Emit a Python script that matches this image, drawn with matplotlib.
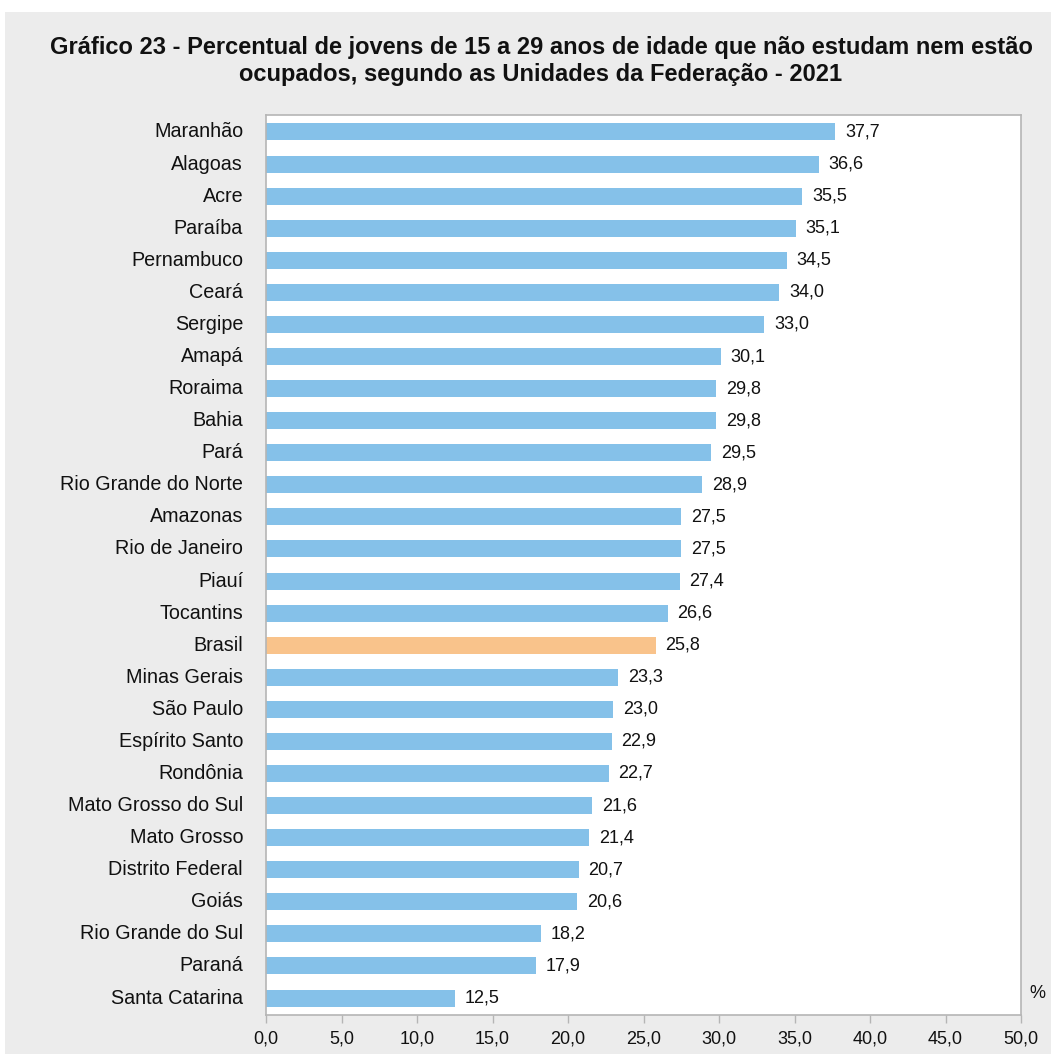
import matplotlib
matplotlib.use('Agg')
import matplotlib.pyplot as plt
import matplotlib.patches as mpatches

# Data, top to bottom
states = ["Maranhão", "Alagoas", "Acre", "Paraíba", "Pernambuco", "Ceará", "Sergipe",
          "Amapá", "Roraima", "Bahia", "Pará", "Rio Grande do Norte", "Amazonas",
          "Rio de Janeiro", "Piauí", "Tocantins", "Brasil", "Minas Gerais", "São Paulo",
          "Espírito Santo", "Rondônia", "Mato Grosso do Sul", "Mato Grosso",
          "Distrito Federal", "Goiás", "Rio Grande do Sul", "Paraná", "Santa Catarina"]
values = [37.7, 36.6, 35.5, 35.1, 34.5, 34.0, 33.0, 30.1, 29.8, 29.8, 29.5, 28.9, 27.5,
          27.5, 27.4, 26.6, 25.8, 23.3, 23.0, 22.9, 22.7, 21.6, 21.4, 20.7, 20.6, 18.2,
          17.9, 12.5]
x_ticks = [0, 5, 10, 15, 20, 25, 30, 35, 40, 45, 50]

BLUE = '#85c1e9'
ORANGE = '#f9c38b'
BG = '#ececec'
SPINE = '#b5b5b5'

plt.rcParams['font.family'] = ['Liberation Sans', 'DejaVu Sans']

W, H = 1051, 1054
fig = plt.figure(figsize=(W / 100, H / 100), dpi=100)
fig.patch.set_facecolor('white')
fig.patches.append(mpatches.Rectangle((5 / W, 0), 1, 1 - 12 / H, transform=fig.transFigure,
                                      facecolor=BG, edgecolor='none', zorder=-10))

# axes box in pixels: left 266, right 1021, top 115, bottom 1015
ax = fig.add_axes([266 / W, 1 - 1015 / H, (1021 - 266) / W, (1015 - 115) / H])
ax.set_facecolor('white')

ypos = list(range(len(states)))
colors = [ORANGE if s == "Brasil" else BLUE for s in states]
ax.barh(ypos, values, height=0.53, color=colors, zorder=2)
for y, v in zip(ypos, values):
    ax.text(v + 0.65, y, f"{v:.1f}".replace('.', ','), va='center', ha='left',
            fontsize=13, color='#111111')

ax.set_ylim(len(states) - 0.47, -0.53)
ax.set_xlim(0, 50)
ax.set_yticks(ypos)
ax.set_yticklabels(states, fontsize=14.2, color='#111111', va='center')
ax.tick_params(axis='y', length=0, pad=16.5)
ax.set_xticks(x_ticks)
ax.set_xticklabels([f"{t:.1f}".replace('.', ',') for t in x_ticks], fontsize=13, color='#111111')
ax.tick_params(axis='x', length=6, color=SPINE, width=1, pad=5)
for sp in ax.spines.values():
    sp.set_color(SPINE)
    sp.set_linewidth(1.2)

fig.text(1037 / W, 1 - 993 / H, "%", ha='center', va='center', fontsize=13, color='#111111')

fig.text(541 / W, 1 - 61 / H,
         "Gráfico 23 - Percentual de jovens de 15 a 29 anos de idade que não estudam nem estão\n"
         "ocupados, segundo as Unidades da Federação - 2021",
         ha='center', va='center', fontsize=17, fontweight='bold', color='#111111',
         linespacing=1.2)

plt.savefig('out.png', dpi=100, facecolor=fig.get_facecolor())
